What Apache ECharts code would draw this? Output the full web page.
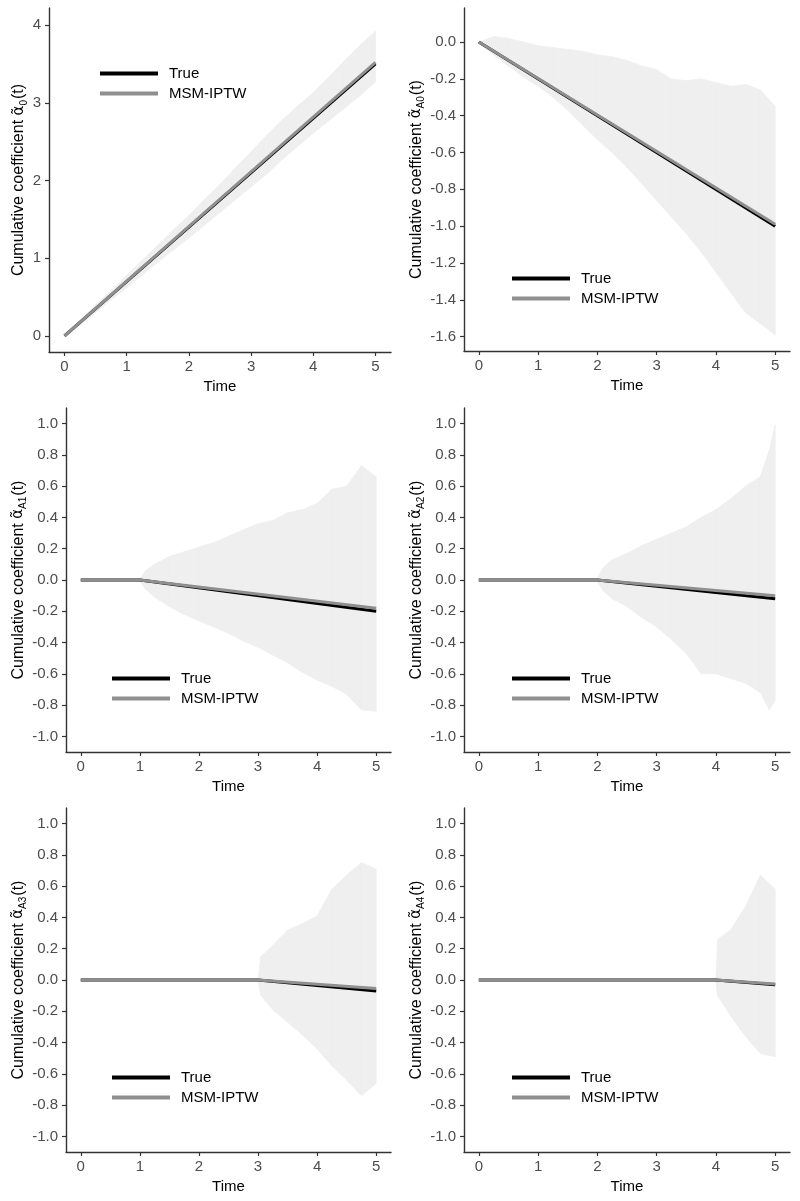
<!DOCTYPE html>
<html><head><meta charset="utf-8">
<script src="https://cdn.jsdelivr.net/npm/echarts@6/dist/echarts.min.js"></script>
<style>html,body{margin:0;padding:0;background:#fff}#c{width:800px;height:1201px}</style>
</head><body><div id="c"></div>
<script>
// ---------- tick labels ----------
const timeTicks = [0, 1, 2, 3, 4, 5];
const yTicks0  = [0, 1, 2, 3, 4];
const yTicksA0 = [0, -0.2, -0.4, -0.6, -0.8, -1.0, -1.2, -1.4, -1.6];
const yTicksA  = [-1.0, -0.8, -0.6, -0.4, -0.2, 0, 0.2, 0.4, 0.6, 0.8, 1.0];
const seriesNames = ['True', 'MSM-IPTW'];

// ---------- panel 1: alpha_0 ----------
const p0BandTime = [0,0.25,0.5,0.75,1,1.25,1.5,1.75,2,2.25,2.5,2.75,3,3.25,3.5,3.75,4,4.25,4.5,4.75,5];
const p0Upper = [0,0.205,0.40,0.585,0.78,0.975,1.17,1.365,1.55,1.755,1.95,2.165,2.37,2.58,2.78,2.96,3.13,3.33,3.54,3.74,3.92];
const p0Lower = [0,0.145,0.30,0.465,0.62,0.785,0.95,1.105,1.26,1.425,1.59,1.755,1.92,2.08,2.27,2.44,2.61,2.77,2.93,3.09,3.27];
const p0LineTime = [0, 5];
const p0True = [0, 3.5];
const p0Msm  = [0, 3.52];

// ---------- panel 2: alpha_A0 ----------
const p1BandTime = [0,0.25,0.5,0.75,1,1.25,1.5,1.75,2,2.25,2.5,2.75,3,3.25,3.5,3.75,4,4.25,4.5,4.75,5];
const p1Upper = [0,0.03,0.02,0.0,-0.02,-0.03,-0.04,-0.05,-0.07,-0.08,-0.1,-0.13,-0.15,-0.2,-0.21,-0.2,-0.22,-0.24,-0.23,-0.26,-0.35];
const p1Lower = [0,-0.07,-0.13,-0.19,-0.24,-0.3,-0.37,-0.45,-0.53,-0.6,-0.68,-0.77,-0.86,-0.95,-1.04,-1.14,-1.25,-1.36,-1.47,-1.53,-1.59];
const p1LineTime = [0, 5];
const p1True = [0, -1.0];
const p1Msm  = [0, -0.99];

// ---------- panel 3: alpha_A1 ----------
const p2BandTime = [1,1.1,1.25,1.5,1.75,2,2.25,2.5,2.75,3,3.25,3.5,3.75,4,4.25,4.5,4.75,5];
const p2Upper = [0.01,0.06,0.1,0.15,0.18,0.21,0.24,0.28,0.32,0.36,0.38,0.43,0.45,0.49,0.58,0.6,0.73,0.66];
const p2Lower = [-0.01,-0.06,-0.11,-0.17,-0.22,-0.26,-0.3,-0.34,-0.39,-0.43,-0.48,-0.53,-0.59,-0.64,-0.68,-0.73,-0.83,-0.84];
const p2LineTime = [0, 1, 5];
const p2True = [0, 0, -0.2];
const p2Msm  = [0, 0, -0.18];

// ---------- panel 4: alpha_A2 ----------
const p3BandTime = [2,2.1,2.25,2.5,2.75,3,3.25,3.5,3.75,4,4.25,4.5,4.75,4.9,5];
const p3Upper = [0.01,0.08,0.13,0.17,0.22,0.26,0.3,0.34,0.4,0.45,0.52,0.6,0.66,0.83,0.99];
const p3Lower = [-0.01,-0.07,-0.12,-0.17,-0.24,-0.3,-0.38,-0.47,-0.6,-0.6,-0.63,-0.66,-0.72,-0.83,-0.77];
const p3LineTime = [0, 2, 5];
const p3True = [0, 0, -0.12];
const p3Msm  = [0, 0, -0.1];

// ---------- panel 5: alpha_A3 ----------
const p4BandTime = [3,3.05,3.25,3.5,3.75,4,4.25,4.5,4.75,5];
const p4Upper = [0.01,0.15,0.22,0.32,0.36,0.41,0.58,0.67,0.75,0.71];
const p4Lower = [-0.01,-0.1,-0.19,-0.27,-0.35,-0.44,-0.55,-0.64,-0.74,-0.66];
const p4LineTime = [0, 3, 5];
const p4True = [0, 0, -0.07];
const p4Msm  = [0, 0, -0.055];

// ---------- panel 6: alpha_A4 ----------
const p5BandTime = [4,4.03,4.25,4.5,4.75,5];
const p5Upper = [0.01,0.26,0.32,0.47,0.67,0.58];
const p5Lower = [-0.01,-0.1,-0.23,-0.36,-0.47,-0.49];
const p5LineTime = [0, 4, 5];
const p5True = [0, 0, -0.03];
const p5Msm  = [0, 0, -0.025];

const subs = ['0', 'A0', 'A1', 'A2', 'A3', 'A4'];

// ---------- layout (styles/positions only) ----------
const FONT = '"Liberation Sans", Arial, sans-serif';
const layout = [
  {left: 49,  top: 8,   width: 342, height: 344, ymin: -0.206, ymax: 4.22,  ticks: yTicks0,  dec: 0, nameGap: 18, legL: 95,  legT: 61},
  {left: 464, top: 8,   width: 326, height: 343, ymin: -1.678, ymax: 0.185, ticks: yTicksA0, dec: 1, nameGap: 32, legL: 507, legT: 266},
  {left: 66,  top: 408, width: 325, height: 344, ymin: -1.1,   ymax: 1.1,   ticks: yTicksA,  dec: 1, nameGap: 32, legL: 107, legT: 666},
  {left: 464, top: 408, width: 326, height: 344, ymin: -1.1,   ymax: 1.1,   ticks: yTicksA,  dec: 1, nameGap: 32, legL: 507, legT: 666},
  {left: 66,  top: 808, width: 325, height: 344, ymin: -1.1,   ymax: 1.1,   ticks: yTicksA,  dec: 1, nameGap: 32, legL: 107, legT: 1065},
  {left: 464, top: 808, width: 326, height: 344, ymin: -1.1,   ymax: 1.1,   ticks: yTicksA,  dec: 1, nameGap: 32, legL: 507, legT: 1065}
];
const panels = [
  [p0BandTime, p0Upper, p0Lower, p0LineTime, p0True, p0Msm],
  [p1BandTime, p1Upper, p1Lower, p1LineTime, p1True, p1Msm],
  [p2BandTime, p2Upper, p2Lower, p2LineTime, p2True, p2Msm],
  [p3BandTime, p3Upper, p3Lower, p3LineTime, p3True, p3Msm],
  [p4BandTime, p4Upper, p4Lower, p4LineTime, p4True, p4Msm],
  [p5BandTime, p5Upper, p5Lower, p5LineTime, p5True, p5Msm]
];

const grid = [], xAxis = [], yAxis = [], series = [], legend = [];
const axisLine = {show: true, onZero: false, lineStyle: {color: '#333333', width: 1.4}};
const axisTick = {show: true, length: 4, lineStyle: {color: '#333333', width: 1.2}};
const BAND = '#efefef';

function renderBand(params, api) {
  const a = api.coord([api.value(0), api.value(2)]);
  const b = api.coord([api.value(0), api.value(3)]);
  const c = api.coord([api.value(1), api.value(5)]);
  const d = api.coord([api.value(1), api.value(4)]);
  return {type: 'polygon', shape: {points: [a, b, c, d]},
    style: {fill: BAND, stroke: BAND, lineWidth: 0.8}};
}

panels.forEach((p, i) => {
  const L = layout[i];
  const [bt, up, lo, lt, tr, ms] = p;
  grid.push({left: L.left, top: L.top, width: L.width, height: L.height});
  xAxis.push({
    type: 'value', gridIndex: i, min: -0.25, max: 5.25,
    name: 'Time', nameLocation: 'middle', nameGap: 27,
    nameTextStyle: {fontFamily: FONT, fontSize: 15, color: '#000'},
    axisLine, axisTick: Object.assign({customValues: timeTicks}, axisTick),
    axisLabel: {customValues: timeTicks, fontFamily: FONT, fontSize: 15, color: '#4d4d4d', margin: 7},
    splitLine: {show: false}
  });
  yAxis.push({
    type: 'value', gridIndex: i, min: L.ymin, max: L.ymax,
    name: '{n|Cumulative coefficient }{a|α̃}{s|' + subs[i] + '}{n|(t)}',
    nameLocation: 'middle', nameGap: L.nameGap, nameRotate: 90,
    nameTextStyle: {
      fontFamily: FONT, fontSize: 16, color: '#000',
      rich: {
        n: {fontFamily: FONT, fontSize: 16, color: '#000', lineHeight: 20},
        a: {fontFamily: '"DejaVu Sans", sans-serif', fontSize: 15, color: '#000', lineHeight: 20},
        s: {fontFamily: FONT, fontSize: 10, color: '#000', lineHeight: 20, verticalAlign: 'bottom', padding: [0, 1, 0, 0]}
      }
    },
    axisLine, axisTick: Object.assign({customValues: L.ticks}, axisTick),
    axisLabel: {customValues: L.ticks, fontFamily: FONT, fontSize: 15, color: '#4d4d4d', margin: 8,
      formatter: v => (Math.abs(v) < 1e-9 ? 0 : v).toFixed(L.dec)},
    splitLine: {show: false}
  });
  series.push({
    type: 'custom', xAxisIndex: i, yAxisIndex: i, silent: true, z: 1,
    renderItem: renderBand,
    encode: {x: [0, 1], y: [2, 3, 4, 5]},
    data: bt.slice(0, -1).map((t, k) => [t, bt[k + 1], lo[k], up[k], lo[k + 1], up[k + 1]])
  });
  series.push({
    name: seriesNames[0], type: 'line', xAxisIndex: i, yAxisIndex: i,
    data: lt.map((t, k) => [t, tr[k]]), symbol: 'none', color: '#000000',
    lineStyle: {color: '#000000', width: 3}, z: 3
  });
  series.push({
    name: seriesNames[1], type: 'line', xAxisIndex: i, yAxisIndex: i,
    data: lt.map((t, k) => [t, ms[k]]), symbol: 'none', color: '#8f8f8f',
    lineStyle: {color: '#8f8f8f', width: 3}, z: 4
  });
  legend.push({
    data: seriesNames, left: L.legL, top: L.legT, orient: 'vertical',
    icon: 'rect', itemWidth: 58, itemHeight: 4, itemGap: 5,
    selectedMode: false,
    textStyle: {fontFamily: FONT, fontSize: 15, color: '#000', padding: [0, 0, 0, 6]}
  });
});

const chart = echarts.init(document.getElementById('c'), null, {renderer: 'canvas'});
chart.setOption({
  animation: false, backgroundColor: '#ffffff',
  grid, xAxis, yAxis, series, legend
});
</script>
</body></html>
